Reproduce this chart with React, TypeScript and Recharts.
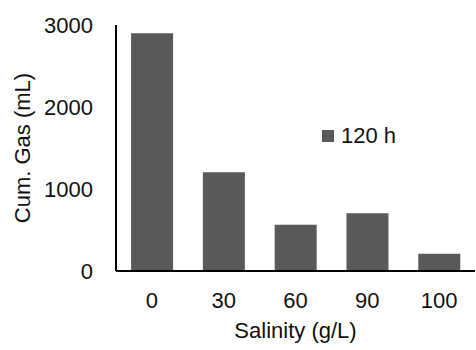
import { Bar, BarChart, Label, Legend, XAxis, YAxis } from "recharts";

const salinity = ["0", "30", "60", "90", "100"];
const gas120h = [2900, 1205, 565, 705, 210];
const yTicks = [0, 1000, 2000, 3000];

const FONT = "'Liberation Sans', Arial, sans-serif";
const BAR_GREY = "#595959";
const INK = "#111111";

const data = salinity.map((s, i) => ({ salinity: s, gas: gas120h[i] }));

function LegendBox() {
  return (
    <div
      style={{
        display: "flex",
        alignItems: "center",
        fontFamily: FONT,
        fontSize: 22,
        color: INK,
        lineHeight: "24px",
        whiteSpace: "nowrap",
        width: 100,
      }}
    >
      <span
        style={{
          display: "inline-block",
          flexShrink: 0,
          width: 12,
          height: 12,
          background: BAR_GREY,
          marginRight: 7,
        }}
      />
      <span>120 h</span>
    </div>
  );
}

export default function App() {
  return (
    <div
      style={{
        position: "absolute",
        left: 0,
        top: 0,
        width: 476,
        height: 350,
        background: "#fff",
      }}
    >
      <BarChart
        width={476}
        height={350}
        data={data}
        margin={{ top: 25, right: 1, left: 0, bottom: 0 }}
        barCategoryGap="21%"
      >
        <XAxis
          dataKey="salinity"
          height={79}
          tickLine={false}
          tickMargin={15}
          axisLine={{ stroke: "#000", strokeWidth: 2 }}
          tick={{ fill: INK, fontSize: 22, fontFamily: FONT }}
        >
          <Label
            value="Salinity (g/L)"
            position="insideBottom"
            offset={12}
            style={{ fill: INK, fontSize: 22, fontFamily: FONT }}
          />
        </XAxis>
        <YAxis
          width={116}
          domain={[0, 3000]}
          ticks={yTicks}
          tickLine={false}
          tickMargin={17}
          axisLine={{ stroke: "#000", strokeWidth: 2 }}
          tick={{ fill: INK, fontSize: 22, fontFamily: FONT }}
        >
          <Label
            value="Cum. Gas (mL)"
            angle={-90}
            position="insideLeft"
            offset={22}
            style={{ fill: INK, fontSize: 22, fontFamily: FONT, textAnchor: "middle" }}
          />
        </YAxis>
        <Legend
          content={<LegendBox />}
          wrapperStyle={{
            position: "absolute",
            left: 322,
            top: 124,
            width: 0,
            height: 0,
            overflow: "visible",
          }}
        />
        <Bar
          dataKey="gas"
          name="120 h"
          fill={BAR_GREY}
          isAnimationActive={false}
        />
      </BarChart>
    </div>
  );
}
